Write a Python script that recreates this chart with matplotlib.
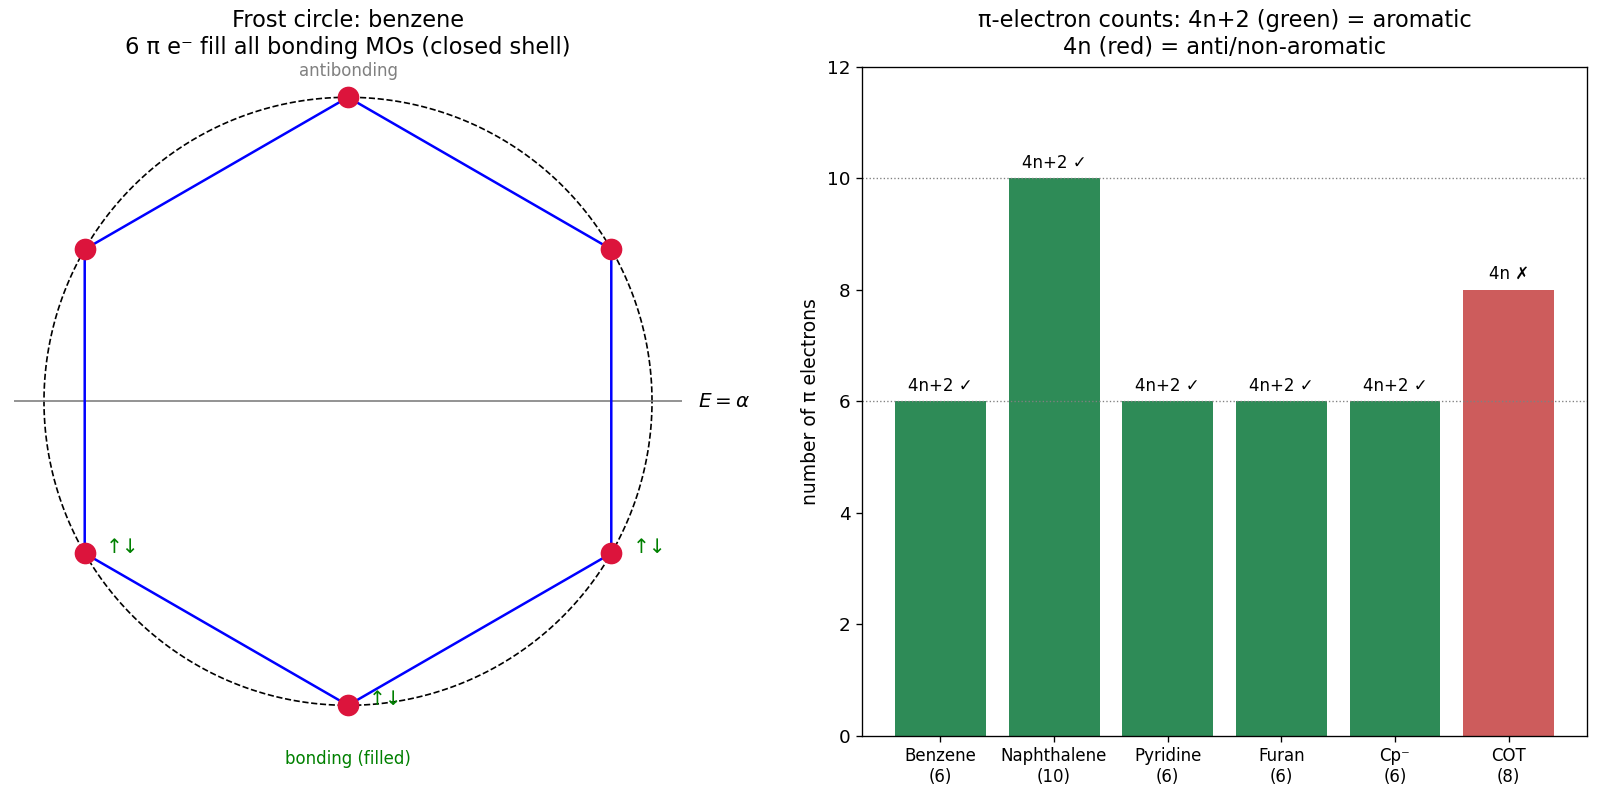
import numpy as np
import matplotlib
matplotlib.use("Agg")
import matplotlib.pyplot as plt

# Frost circle for benzene (Huckel: E = alpha + 2 beta cos(2 pi k / n))
n_ring = 6
radius = 2.0
filled_levels = [-2.0, -1.0]  # energies (in units of beta below alpha) that hold 2 electrons

# pi-electron counts
molecules = ["Benzene", "Naphthalene", "Pyridine", "Furan", "Cp\u207b", "COT"]
pi_counts = [6, 10, 6, 6, 6, 8]
aromatic = [True, True, True, True, True, False]

fig = plt.figure(figsize=(1600 / 120, 801 / 120), dpi=120)

# ---- left: Frost circle ----
ax1 = fig.add_axes([13.5 / 1600, 0.0815, 669 / 1600, 0.835])
t = np.linspace(0, 2 * np.pi, 300)
ax1.plot(radius * np.cos(t), radius * np.sin(t), "k--", lw=1)
ax1.axhline(0, xmin=0, xmax=1, color="gray", lw=1)

ang = np.pi / 2 + 2 * np.pi * np.arange(n_ring + 1) / n_ring
vx = radius * np.cos(ang)
vy = radius * np.sin(ang)
ax1.plot(vx, vy, color="blue", lw=1.5, zorder=2)
ax1.plot(vx[:-1], vy[:-1], "o", color="crimson", ms=12, zorder=3)

for x, y in zip(vx[:-1], vy[:-1]):
    if round(y, 6) in filled_levels:
        ax1.text(x + 0.14, y + 0.04, "\u2191\u2193", color="green", fontsize=12,
                 ha="left", va="center")

ax1.text(2.3, 0, r"$E = \alpha$", fontsize=12, ha="left", va="center")
ax1.text(0, 2.17, "antibonding", color="gray", fontsize=10, ha="center", va="center")
ax1.text(0, -2.35, "bonding (filled)", color="green", fontsize=10, ha="center", va="center")
ax1.set_xlim(-2.2, 2.2)
ax1.set_ylim(-2.2, 2.2)
ax1.set_aspect("equal")
ax1.axis("off")
ax1.set_title("Frost circle: benzene\n6 \u03c0 e\u207b fill all bonding MOs (closed shell)",
              fontsize=13.5, pad=8)

# ---- right: electron counts ----
ax2 = fig.add_axes([862 / 1600, 0.0815, 725 / 1600, 0.835])
colors = ["seagreen" if a else "indianred" for a in aromatic]
xlabels = [f"{m}\n({c})" for m, c in zip(molecules, pi_counts)]
bars = ax2.bar(range(len(molecules)), pi_counts, color=colors, width=0.8)
for b, c, a in zip(bars, pi_counts, aromatic):
    lab = "4n+2 \u2713" if a else "4n \u2717"
    ax2.text(b.get_x() + b.get_width() / 2, c + 0.12, lab, ha="center", va="bottom", fontsize=10)
ax2.axhline(6, color="gray", ls=":", lw=0.8)
ax2.axhline(10, color="gray", ls=":", lw=0.8)
ax2.set_xticks(range(len(molecules)))
ax2.set_xticklabels(xlabels, fontsize=10)
ax2.tick_params(axis="y", labelsize=11)
ax2.set_ylim(0, 12)
ax2.set_ylabel("number of \u03c0 electrons", fontsize=11.25)
ax2.set_title("\u03c0-electron counts: 4n+2 (green) = aromatic\n4n (red) = anti/non-aromatic",
              fontsize=13.5, pad=8)

plt.savefig("out.png", dpi=120)
